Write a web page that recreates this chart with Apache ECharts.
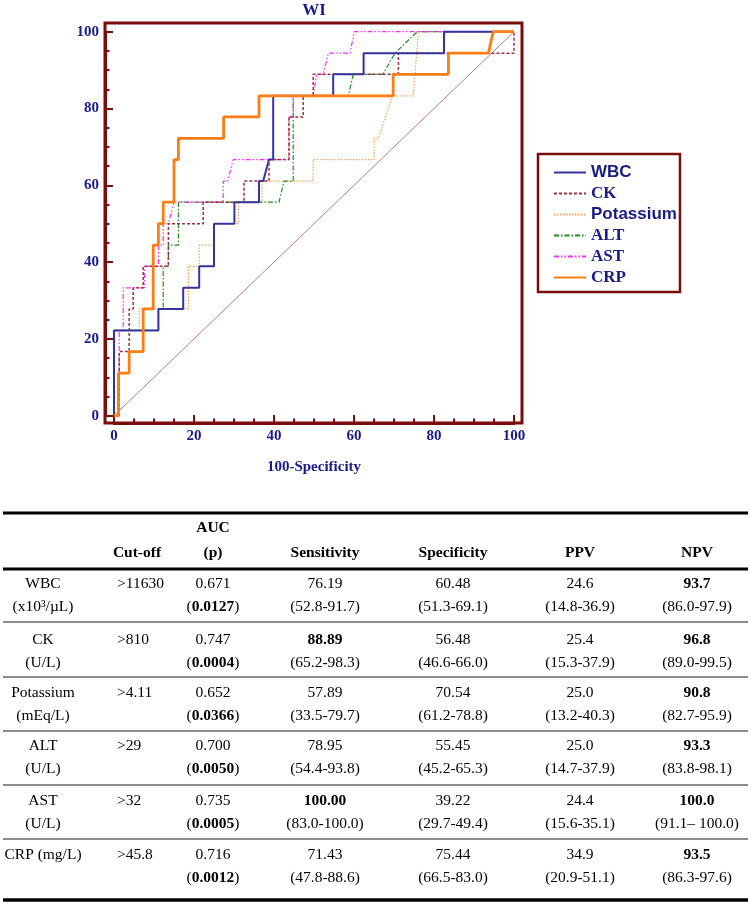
<!DOCTYPE html>
<html>
<head>
<meta charset="utf-8">
<script src="https://cdn.jsdelivr.net/npm/echarts@6/dist/echarts.min.js"></script>
<style>html,body{margin:0;padding:0;background:#fff}#c{width:751px;height:905px}</style>
</head>
<body>
<div id="c"></div>
<script>
// ---------- ROC curve data ([100-Specificity, Sensitivity]) ----------
const wbc = [[0,0],[0,22.2],[11.1,22.2],[11.1,27.8],[17.3,27.8],[17.3,33.3],[21.3,33.3],[21.3,38.9],[25,38.9],[25,50],[30.1,50],[30.1,55.6],[36.25,55.6],[36.25,61.1],[37.3,61.1],[38.75,66.7],[39.8,66.7],[39.8,83.3],[54.8,83.3],[54.8,88.9],[62.4,88.9],[62.4,94.4],[82.5,94.4],[82.5,100],[100,100]];
const ck = [[0,0],[1.3,0],[1.3,16.7],[3.8,16.7],[3.8,27.8],[4.8,27.8],[4.8,33.3],[7.3,33.3],[7.3,38.9],[13.6,38.9],[13.6,50],[22.3,50],[22.3,55.6],[32.5,55.6],[32.5,61.1],[38.75,61.1],[38.75,66.7],[43.75,66.7],[43.75,77.8],[47.3,77.8],[47.3,83.3],[49.8,83.3],[49.8,88.9],[71.1,88.9],[71.1,94.4],[100,94.4],[100,100]];
const potassium = [[0,0],[0,22.2],[6.3,22.2],[6.3,27.8],[18.6,27.8],[18.6,38.9],[21.3,38.9],[21.3,44.4],[25,44.4],[25,50],[31.1,50],[31.1,55.6],[37,55.6],[37,61.1],[49.8,61.1],[49.8,66.7],[65,66.7],[65,72.2],[66.1,72.2],[69.6,83.3],[74.8,83.3],[76.1,100],[100,100]];
const alt = [[0,0],[0,22.2],[11.1,22.2],[11.1,27.8],[12.3,27.8],[12.3,38.9],[13.6,38.9],[13.6,44.4],[16.1,44.4],[16.1,55.6],[41.25,55.6],[42.5,61.1],[44.8,61.1],[44.8,83.3],[58.6,83.3],[59.8,88.9],[67.2,88.9],[70.25,94.4],[75.8,100],[100,100]];
const ast = [[0,0],[0,5.6],[1.3,5.6],[1.3,22.2],[2.3,22.2],[2.3,33.3],[7.6,33.3],[7.6,38.9],[11.1,38.9],[11.1,44.4],[12.3,44.4],[12.3,50],[13.6,50],[15,55.6],[27.3,55.6],[27.3,61.1],[28.4,61.1],[29.8,66.7],[43.75,66.7],[43.75,77.8],[44.8,77.8],[44.8,83.3],[49.8,83.3],[50.7,88.9],[52.3,88.9],[53.6,94.4],[59,94.4],[60.1,100],[100,100]];
const crp = [[0,0],[1.1,0],[1.1,11.1],[3.8,11.1],[3.8,16.7],[7.3,16.7],[7.3,27.8],[9.8,27.8],[9.8,44.4],[11.1,44.4],[11.1,50],[12.3,50],[12.3,55.6],[15,55.6],[15,66.7],[16.1,66.7],[16.1,72.2],[27.4,72.2],[27.4,77.8],[36.25,77.8],[36.25,83.3],[69.8,83.3],[69.8,88.9],[83.6,88.9],[83.6,94.4],[93.6,94.4],[94.8,100],[100,100]];
const diagonal = [[0,0],[100,100]];
const legendNames = ['WBC','CK','Potassium','ALT','AST','CRP'];
const chartTitle = 'WI';
const xAxisName = '100-Specificity';

// ---------- table data ----------
const headers = ['', 'Cut-off', '(p)', 'Sensitivity', 'Specificity', 'PPV', 'NPV'];
const headerTop = 'AUC';
const markers = ['WBC','CK','Potassium','ALT','AST','CRP (mg/L)'];
const units = ['(x10³/µL)','(U/L)','(mEq/L)','(U/L)','(U/L)',''];
const cutoffs = ['>11630','>810','>4.11','>29','>32','>45.8'];
const aucs = ['0.671','0.747','0.652','0.700','0.735','0.716'];
const pvals = ['0.0127','0.0004','0.0366','0.0050','0.0005','0.0012'];
const sens = ['76.19','88.89','57.89','78.95','100.00','71.43'];
const sensBold = [false,true,false,false,true,false];
const sensCI = ['(52.8-91.7)','(65.2-98.3)','(33.5-79.7)','(54.4-93.8)','(83.0-100.0)','(47.8-88.6)'];
const spec = ['60.48','56.48','70.54','55.45','39.22','75.44'];
const specCI = ['(51.3-69.1)','(46.6-66.0)','(61.2-78.8)','(45.2-65.3)','(29.7-49.4)','(66.5-83.0)'];
const ppv = ['24.6','25.4','25.0','25.0','24.4','34.9'];
const ppvCI = ['(14.8-36.9)','(15.3-37.9)','(13.2-40.3)','(14.7-37.9)','(15.6-35.1)','(20.9-51.1)'];
const npv = ['93.7','96.8','90.8','93.3','100.0','93.5'];
const npvCI = ['(86.0-97.9)','(89.0-99.5)','(82.7-95.9)','(83.8-98.1)','(91.1– 100.0)','(86.3-97.6)'];

// ---------- styles ----------
const SERIF = "'Liberation Serif', 'Times New Roman', serif";
const SANS = "'Liberation Sans', Arial, sans-serif";
const NAVY = '#1a1a88';
const FRAME = '#7a0c0c';
const FS = 15.5;

const chart = echarts.init(document.getElementById('c'), null, {renderer:'canvas', width:751, height:905});

const gridLeft = 114, gridTop = 31.7, gridW = 400, gridH = 384;
const offL = 9, offB = 7.3, offT = 8.7, offR = 8;

function axisCommon() {
  return {
    type: 'value', min: 0, max: 100, interval: 20,
    axisLine: {show: true, onZero: false, lineStyle: {color: FRAME, width: 3}},
    axisTick: {show: true, inside: true, length: 8, lineStyle: {color: FRAME, width: 2}},
    minorTick: {show: true, splitNumber: 4, length: 4.5, lineStyle: {color: FRAME, width: 2}},
    splitLine: {show: false}, minorSplitLine: {show: false},
    axisLabel: {color: NAVY, fontFamily: SERIF, fontWeight: 'bold', fontSize: 15}
  };
}
const xA = axisCommon();
xA.offset = offB; xA.axisLabel.margin = 6;
xA.name = xAxisName; xA.nameLocation = 'middle'; xA.nameGap = 37;
xA.nameTextStyle = {color: NAVY, fontFamily: SERIF, fontWeight: 'bold', fontSize: 15};
const yA = axisCommon();
yA.offset = offL; yA.axisLabel.margin = 6;

const mk = (name, data, color, width, type) => ({
  name, type: 'line', data, symbol: 'none', clip: false, silent: true,
  lineStyle: {color, width, type}, itemStyle: {color}
});

const series = [
  {type:'line', data: diagonal, symbol:'none', clip:false, silent:true, lineStyle:{color:'#b05858', width:0.8}},
  mk('Potassium', potassium, '#f7a35c', 1.2, [1.5,1.5]),
  mk('ALT', alt, '#1e8c1e', 1.2, [5,2,1.5,2]),
  mk('AST', ast, '#ff30ff', 1.2, [5,2,1.5,2,1.5,2]),
  mk('CK', ck, '#a0303c', 1.5, [3,2]),
  mk('WBC', wbc, '#34349c', 2, 'solid'),
  mk('CRP', crp, '#ff7d12', 2.8, 'solid')
];

// table graphics
const g = [];
const T = (x, y, text, opts) => {
  opts = opts || {};
  g.push({type:'text', x, y, silent:true, style: Object.assign({
    text, fill:'#000', fontSize: FS, fontFamily: SERIF, fontWeight: 'normal',
    textAlign:'center', textVerticalAlign:'middle', verticalAlign:'middle',
    rich: {b: {fontWeight:'bold', fontSize:FS, fontFamily:SERIF, fill:'#000'}, n:{fontWeight:'normal', fontSize:FS, fontFamily:SERIF, fill:'#000'}}
  }, opts)});
};
const L = (y, w, color) => g.push({type:'line', silent:true, shape:{x1:3, y1:y, x2:748, y2:y}, style:{stroke: color || '#000', lineWidth: w}});

const colX = [43, 117, 213, 325, 453, 580, 697];
const headY = 553, aucY = 528;
L(513, 3); L(569, 3); L(900, 3.5);
T(colX[2], aucY, headerTop, {fontWeight:'bold'});
headers.forEach((h, i) => { if (h) T(i === 1 ? 137 : colX[i], headY, h, {fontWeight:'bold'}); });
const rowY = [584, 640, 693, 746, 801, 855];
const sepY = [622, 677, 731, 785, 839];
sepY.forEach(y => L(y, 1.5, '#666'));
const dy = 23;
for (let r = 0; r < 6; r++) {
  const y1 = rowY[r], y2 = rowY[r] + dy;
  T(colX[0], y1, markers[r]);
  if (units[r]) T(colX[0], y2, units[r]);
  T(colX[1], y1, cutoffs[r], {textAlign:'left'});
  T(colX[2], y1, aucs[r]);
  T(colX[2], y2, '{n|(}{b|' + pvals[r] + '}{n|)}');
  T(colX[3], y1, sens[r], {fontWeight: sensBold[r] ? 'bold' : 'normal'});
  T(colX[3], y2, sensCI[r]);
  T(colX[4], y1, spec[r]);
  T(colX[4], y2, specCI[r]);
  T(colX[5], y1, ppv[r]);
  T(colX[5], y2, ppvCI[r]);
  T(colX[6], y1, npv[r], {fontWeight:'bold'});
  T(colX[6], y2, npvCI[r]);
}
// plot frame and legend box
g.push({type:'rect', silent:true, z: 100, shape:{x: gridLeft - offL, y: gridTop - offT, width: gridW + offL + offR, height: gridH + offT + offB}, style:{fill:'none', stroke: FRAME, lineWidth: 3}});
g.push({type:'rect', silent:true, shape:{x: 538, y: 154, width: 142, height: 138}, style:{fill:'none', stroke: FRAME, lineWidth: 2.5}});
g.push({type:'text', silent:true, x: gridLeft + gridW/2, y: 11, style:{text: chartTitle, fill: NAVY, fontSize: 17, fontFamily: SERIF, fontWeight:'bold', textAlign:'center', textVerticalAlign:'middle', verticalAlign:'middle'}});

chart.setOption({
  animation: false,
  backgroundColor: '#fff',
  grid: {left: gridLeft, top: gridTop, width: gridW, height: gridH, containLabel: false},
  xAxis: xA,
  yAxis: yA,
  legend: {
    orient: 'vertical', left: 548, top: 159, itemWidth: 32, itemHeight: 12, itemGap: 4,
    data: legendNames,
    itemStyle: {opacity: 0},
    formatter: n => (n === 'WBC' || n === 'Potassium') ? '{s|' + n + '}' : '{t|' + n + '}',
    textStyle: {
      color: NAVY, lineHeight: 17,
      rich: {
        s: {fontFamily: SANS, fontWeight: 'bold', fontSize: 17, color: NAVY, lineHeight: 17},
        t: {fontFamily: SERIF, fontWeight: 'bold', fontSize: 17, color: NAVY, lineHeight: 17}
      }
    },
    selectedMode: false
  },
  series,
  graphic: g
});
</script>
</body>
</html>
